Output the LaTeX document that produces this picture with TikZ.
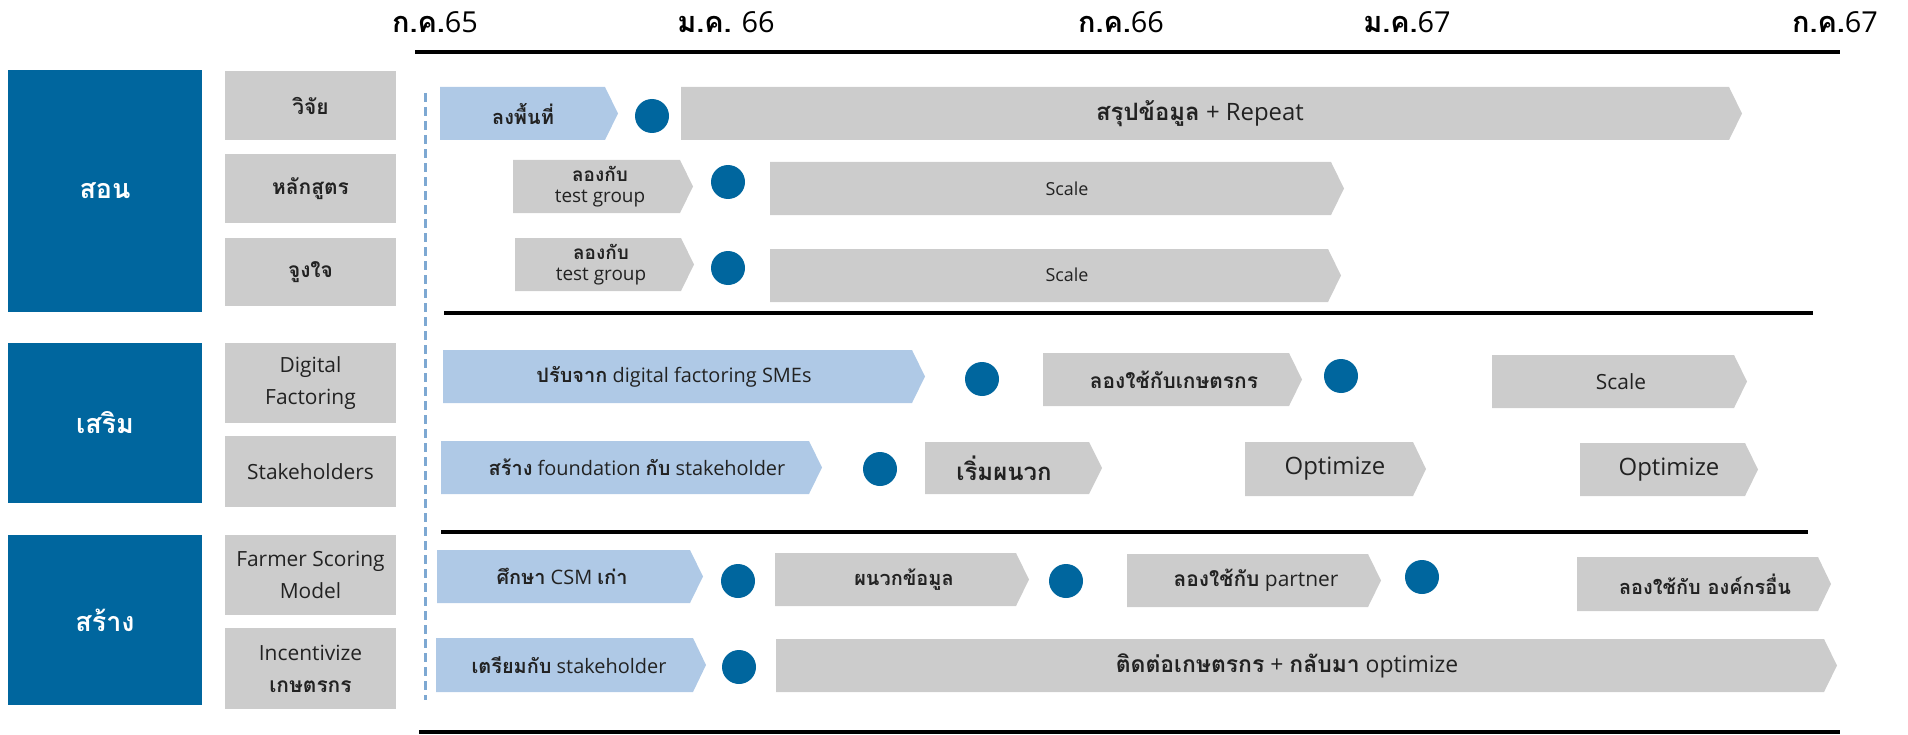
\documentclass[tikz,border=0pt]{standalone}
\usepackage{fontspec}
\setmainfont{Open Sans}
\newfontfamily\thai[Script=Thai]{Loma}
\newcommand\tb[1]{{\thai\bfseries #1}}
\definecolor{dblue}{RGB}{0,102,158}
\definecolor{lblue}{RGB}{175,201,230}
\definecolor{gbox}{RGB}{204,204,204}
\definecolor{dashclr}{RGB}{125,168,210}
\definecolor{txt}{RGB}{34,34,34}
% chevron: style, x-left, x-tip, y-top, y-bottom
\newcommand\chevshape[5]{\fill[#1] (#2,#4) -- ({#3-13},#4) -- (#3,{(#4+#5)/2}) -- ({#3-13},#5) -- (#2,#5) -- cycle;}
\tikzset{
  blk/.style={rectangle, fill=dblue, text=white, minimum width=194bp, inner sep=0pt, font=\fontsize{27}{30}\selectfont\thai\bfseries},
  lab/.style={rectangle, fill=gbox, text=txt, minimum width=171bp, inner sep=0pt, align=center, font=\fontsize{21}{32}\selectfont},
  dot/.style={circle, fill=dblue, minimum size=34bp, inner sep=0pt},
  tx/.style={text=txt, inner sep=0pt, align=center},
  datelbl/.style={anchor=base, text=black, inner sep=0pt, font=\fontsize{29}{30}\selectfont},
  axis/.style={line width=3.5bp, black},
  lite/.style={fill=lblue},
  grey/.style={fill=gbox},
}
\begin{document}
\begin{tikzpicture}[x=1bp,y=-1bp]
\useasboundingbox (0,0) rectangle (1908,735);

% date labels
\node[datelbl] (d65a) at (435,33) {\tb{ก.ค.}65};
\node[datelbl] (d66a) at (726,33) {\tb{ม.ค.} 66};
\node[datelbl] (d66b) at (1121,33) {\tb{ก.ค.}66};
\node[datelbl] (d67a) at (1407,33) {\tb{ม.ค.}67};
\node[datelbl] (d67b) at (1835,33) {\tb{ก.ค.}67};

% horizontal rules
\coordinate (r1a) at (415,52);  \coordinate (r1b) at (1840,52);
\coordinate (r2a) at (444,313); \coordinate (r2b) at (1813,313);
\coordinate (r3a) at (441,532); \coordinate (r3b) at (1808,532);
\coordinate (r4a) at (419,732); \coordinate (r4b) at (1840,732);
\draw[axis] (r1a) -- (r1b);
\draw[axis] (r2a) -- (r2b);
\draw[axis] (r3a) -- (r3b);
\draw[axis] (r4a) -- (r4b);

% dashed start line
\coordinate (ds1) at (425.5,93);
\coordinate (ds2) at (425.5,700);
\draw[dashclr, line width=2.5bp, dash pattern=on 9bp off 5bp] (ds1) -- (ds2);

% left category boxes
\node[blk, minimum height=242bp] (son) at (105,191) {สอน};
\node[blk, minimum height=160bp] (serm) at (105,423) {เสริม};
\node[blk, minimum height=170bp] (sang) at (105,620) {สร้าง};

% sub-labels
\node[lab, minimum height=69bp] (wijai) at (310.5,105.5) {\tb{วิจัย}};
\node[lab, minimum height=69bp] (laksut) at (310.5,188.5) {\tb{หลักสูตร}};
\node[lab, minimum height=68bp] (jungjai) at (310.5,272) {\tb{จูงใจ}};
\node[lab, minimum height=80bp] (digital) at (310.5,383) {Digital\\Factoring};
\node[lab, minimum height=71bp] (stake) at (310.5,471.5) {Stakeholders};
\node[lab, minimum height=80bp] (farmer) at (310.5,575) {Farmer Scoring\\Model};
\node[lab, minimum height=81bp] (incent) at (310.5,668.5) {Incentivize\\\tb{เกษตรกร}};

% row 1
\chevshape{lite}{440}{618}{87}{140}
\node[tx, font=\fontsize{20}{22}\selectfont] (a1) at (523,113.5) {\tb{ลงพื้นที่}};
\node[dot] (p1) at (652,116) {};
\chevshape{grey}{681}{1742}{87}{140}
\node[tx, font=\fontsize{24}{26}\selectfont] (g1) at (1200,113.5) {\tb{สรุปข้อมูล} + Repeat};

% row 2
\chevshape{grey}{513}{693}{160}{213}
\node[tx, font=\fontsize{19}{21}\selectfont] (a2) at (600,186.5) {\tb{ลองกับ}\\test group};
\node[dot] (p2) at (728,182) {};
\chevshape{grey}{770}{1344}{162}{215}
\node[tx, font=\fontsize{18}{20}\selectfont] (g2) at (1067,188.5) {Scale};

% row 3
\chevshape{grey}{515}{694}{238}{291}
\node[tx, font=\fontsize{19}{21}\selectfont] (a3) at (601,264.5) {\tb{ลองกับ}\\test group};
\node[dot] (p3) at (728,268) {};
\chevshape{grey}{770}{1341}{249}{302}
\node[tx, font=\fontsize{18}{20}\selectfont] (g3) at (1067,275) {Scale};

% row 4
\chevshape{lite}{443}{925}{350}{403}
\node[tx, font=\fontsize{20}{22}\selectfont] (a4) at (674,376.5) {\tb{ปรับจาก} digital factoring SMEs};
\node[dot] (p4) at (982,379) {};
\chevshape{grey}{1043}{1302}{353}{406}
\node[tx, font=\fontsize{21}{22}\selectfont] (g4) at (1174,379.5) {\tb{ลองใช้กับเกษตรกร}};
\node[dot] (p5) at (1341,376) {};
\chevshape{grey}{1492}{1747}{355}{408}
\node[tx, font=\fontsize{21}{22}\selectfont] (g5) at (1621,381.5) {Scale};

% row 5
\chevshape{lite}{441}{822}{441}{494}
\node[tx, font=\fontsize{20}{22}\selectfont] (a5) at (637,467.5) {\tb{สร้าง} foundation \tb{กับ} stakeholder};
\node[dot] (p6) at (880,469) {};
\chevshape{grey}{925}{1102}{442}{494}
\node[tx, font=\fontsize{24}{26}\selectfont] (g6) at (1004,468) {\tb{เริ่มผนวก}};
\chevshape{grey}{1245}{1426}{442}{496}
\node[tx, font=\fontsize{24}{26}\selectfont] (g7) at (1335,469) {Optimize};
\chevshape{grey}{1580}{1758}{443}{496}
\node[tx, font=\fontsize{24}{26}\selectfont] (g8) at (1669,469.5) {Optimize};

% row 6
\chevshape{lite}{437}{703}{550}{603}
\node[tx, font=\fontsize{20}{22}\selectfont] (a6) at (562,576.5) {\tb{ศึกษา} CSM \tb{เก่า}};
\node[dot] (p7) at (738,581) {};
\chevshape{grey}{775}{1029}{553}{606}
\node[tx, font=\fontsize{20}{22}\selectfont] (g9) at (904,579.5) {\tb{ผนวกข้อมูล}};
\node[dot] (p8) at (1066,581) {};
\chevshape{grey}{1127}{1381}{554}{607}
\node[tx, font=\fontsize{21}{22}\selectfont] (g10) at (1256,580.5) {\tb{ลองใช้กับ} partner};
\node[dot] (p9) at (1422,577) {};
\chevshape{grey}{1577}{1831}{557}{611}
\node[tx, font=\fontsize{20}{22}\selectfont] (g11) at (1705,584) {\tb{ลองใช้กับ องค์กรอื่น}};

% row 7
\chevshape{lite}{436}{706}{638}{692}
\node[tx, font=\fontsize{20}{22}\selectfont] (a7) at (569,665) {\tb{เตรียมกับ} stakeholder};
\node[dot] (p10) at (739,667) {};
\chevshape{grey}{776}{1837}{639}{692}
\node[tx, font=\fontsize{23}{26}\selectfont] (g12) at (1287,665.5) {\tb{ติดต่อเกษตรกร} + \tb{กลับมา} optimize};
\end{tikzpicture}
\end{document}
